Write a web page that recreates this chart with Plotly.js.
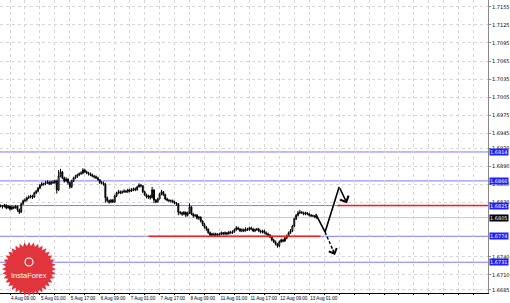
<!DOCTYPE html>
<html><head><meta charset="utf-8">
<script src="https://cdn.plot.ly/plotly-3.0.1.min.js"></script>
<style>html,body{margin:0;padding:0;background:#fff}#chart{width:510px;height:303px}</style>
</head><body><div id="chart"></div>
<script>
// ---- data ----
const opens = [1.6825,1.6824,1.6823,1.6826,1.6821,1.6824,1.6819,1.6823,1.6821,1.6824,1.6818,1.6814,1.6828,1.6833,1.6834,1.6838,1.6839,1.6841,1.6839,1.6846,1.6849,1.6854,1.6859,1.6861,1.6861,1.6863,1.6864,1.6861,1.6864,1.6863,1.6866,1.6851,1.6874,1.6881,1.6871,1.6866,1.6869,1.6863,1.6856,1.6866,1.6871,1.6873,1.6876,1.6878,1.6879,1.6884,1.6881,1.6879,1.6878,1.6876,1.6874,1.6873,1.6871,1.6868,1.6863,1.6863,1.6861,1.6838,1.6833,1.6831,1.6834,1.6831,1.6841,1.6846,1.6848,1.6846,1.6848,1.6849,1.6848,1.6851,1.6849,1.6851,1.6853,1.6851,1.6856,1.6859,1.6858,1.6848,1.6843,1.6839,1.6841,1.6838,1.6851,1.6834,1.6831,1.6836,1.6844,1.6848,1.6843,1.6836,1.6834,1.6833,1.6833,1.6831,1.6829,1.6828,1.6814,1.6813,1.6811,1.6814,1.6809,1.6813,1.6823,1.6811,1.6808,1.6809,1.6804,1.6806,1.6799,1.6794,1.6789,1.6786,1.6780,1.6776,1.6778,1.6776,1.6778,1.6776,1.6778,1.6780,1.6778,1.6780,1.6778,1.6781,1.6780,1.6781,1.6785,1.6788,1.6786,1.6783,1.6785,1.6783,1.6786,1.6785,1.6788,1.6786,1.6783,1.6785,1.6786,1.6783,1.6781,1.6783,1.6780,1.6778,1.6776,1.6773,1.6768,1.6765,1.6761,1.6758,1.6765,1.6768,1.6766,1.6771,1.6775,1.6780,1.6783,1.6791,1.6803,1.6809,1.6813,1.6814,1.6813,1.6811,1.6813,1.6811,1.6809,1.6808,1.6808,1.6806];
const closes = [1.6824,1.6823,1.6826,1.6821,1.6824,1.6819,1.6823,1.6821,1.6824,1.6818,1.6814,1.6828,1.6833,1.6834,1.6838,1.6839,1.6841,1.6839,1.6846,1.6849,1.6854,1.6859,1.6861,1.6861,1.6863,1.6864,1.6861,1.6864,1.6863,1.6866,1.6851,1.6874,1.6881,1.6871,1.6866,1.6869,1.6863,1.6856,1.6866,1.6871,1.6873,1.6876,1.6878,1.6879,1.6884,1.6881,1.6879,1.6878,1.6876,1.6874,1.6873,1.6871,1.6868,1.6863,1.6863,1.6861,1.6838,1.6833,1.6831,1.6834,1.6831,1.6841,1.6846,1.6848,1.6846,1.6848,1.6849,1.6848,1.6851,1.6849,1.6851,1.6853,1.6851,1.6856,1.6859,1.6858,1.6848,1.6843,1.6839,1.6841,1.6838,1.6851,1.6834,1.6831,1.6836,1.6844,1.6848,1.6843,1.6836,1.6834,1.6833,1.6833,1.6831,1.6829,1.6828,1.6814,1.6813,1.6811,1.6814,1.6809,1.6813,1.6823,1.6811,1.6808,1.6809,1.6804,1.6806,1.6799,1.6794,1.6789,1.6786,1.6780,1.6776,1.6778,1.6776,1.6778,1.6776,1.6778,1.6780,1.6778,1.6780,1.6778,1.6781,1.6780,1.6781,1.6785,1.6788,1.6786,1.6783,1.6785,1.6783,1.6786,1.6785,1.6788,1.6786,1.6783,1.6785,1.6786,1.6783,1.6781,1.6783,1.6780,1.6778,1.6776,1.6773,1.6768,1.6765,1.6761,1.6758,1.6765,1.6768,1.6766,1.6771,1.6775,1.6780,1.6783,1.6791,1.6803,1.6809,1.6813,1.6814,1.6813,1.6811,1.6813,1.6811,1.6809,1.6808,1.6808,1.6806,1.6805];
const highs = [1.6827,1.6826,1.6828,1.6827,1.6826,1.6825,1.6825,1.6824,1.6826,1.6825,1.6820,1.6830,1.6835,1.6837,1.6840,1.6842,1.6843,1.6843,1.6848,1.6851,1.6856,1.6861,1.6864,1.6863,1.6866,1.6867,1.6866,1.6866,1.6867,1.6868,1.6868,1.6884,1.6886,1.6882,1.6873,1.6872,1.6870,1.6865,1.6868,1.6873,1.6876,1.6878,1.6880,1.6882,1.6887,1.6886,1.6883,1.6881,1.6880,1.6878,1.6876,1.6875,1.6873,1.6869,1.6866,1.6865,1.6862,1.6840,1.6835,1.6836,1.6836,1.6843,1.6848,1.6851,1.6850,1.6850,1.6852,1.6851,1.6853,1.6853,1.6854,1.6855,1.6855,1.6858,1.6862,1.6861,1.6859,1.6850,1.6845,1.6843,1.6843,1.6856,1.6852,1.6836,1.6838,1.6846,1.6851,1.6849,1.6845,1.6838,1.6836,1.6835,1.6835,1.6833,1.6831,1.6829,1.6816,1.6815,1.6816,1.6815,1.6815,1.6829,1.6824,1.6813,1.6811,1.6811,1.6808,1.6807,1.6801,1.6796,1.6791,1.6787,1.6782,1.6780,1.6780,1.6780,1.6779,1.6780,1.6782,1.6781,1.6782,1.6781,1.6783,1.6783,1.6784,1.6787,1.6791,1.6790,1.6788,1.6787,1.6787,1.6789,1.6788,1.6790,1.6790,1.6788,1.6787,1.6788,1.6788,1.6785,1.6785,1.6785,1.6782,1.6780,1.6778,1.6775,1.6770,1.6767,1.6763,1.6767,1.6770,1.6770,1.6773,1.6777,1.6782,1.6786,1.6793,1.6805,1.6811,1.6816,1.6818,1.6816,1.6815,1.6815,1.6814,1.6813,1.6811,1.6810,1.6809,1.6808];
const lows = [1.6822,1.6820,1.6822,1.6819,1.6820,1.6817,1.6818,1.6819,1.6820,1.6815,1.6811,1.6813,1.6826,1.6831,1.6832,1.6836,1.6837,1.6836,1.6838,1.6844,1.6847,1.6852,1.6857,1.6858,1.6859,1.6861,1.6859,1.6859,1.6861,1.6861,1.6845,1.6849,1.6872,1.6869,1.6863,1.6864,1.6860,1.6853,1.6854,1.6864,1.6869,1.6871,1.6874,1.6876,1.6877,1.6879,1.6877,1.6875,1.6874,1.6872,1.6870,1.6869,1.6866,1.6861,1.6860,1.6858,1.6830,1.6830,1.6828,1.6829,1.6829,1.6830,1.6839,1.6844,1.6844,1.6845,1.6846,1.6846,1.6846,1.6847,1.6848,1.6849,1.6849,1.6850,1.6855,1.6855,1.6846,1.6841,1.6837,1.6836,1.6835,1.6837,1.6829,1.6829,1.6830,1.6835,1.6842,1.6841,1.6834,1.6832,1.6831,1.6830,1.6829,1.6827,1.6825,1.6809,1.6810,1.6808,1.6809,1.6806,1.6807,1.6811,1.6809,1.6805,1.6806,1.6802,1.6801,1.6797,1.6791,1.6787,1.6783,1.6778,1.6773,1.6774,1.6774,1.6774,1.6774,1.6775,1.6776,1.6776,1.6776,1.6776,1.6777,1.6778,1.6778,1.6780,1.6783,1.6784,1.6781,1.6781,1.6781,1.6782,1.6783,1.6783,1.6784,1.6781,1.6781,1.6783,1.6781,1.6779,1.6779,1.6778,1.6776,1.6774,1.6771,1.6766,1.6763,1.6759,1.6755,1.6756,1.6763,1.6764,1.6765,1.6769,1.6773,1.6778,1.6781,1.6789,1.6801,1.6807,1.6811,1.6811,1.6809,1.6809,1.6809,1.6807,1.6806,1.6806,1.6804,1.6803];

// forecast zigzag (bar index, price)
const fcX = [168.5, 173.5, 181.0];
const fcY = [1.6811, 1.6781, 1.6856];
const fcUpTip = [185.2, 1.6829];
const fcDownTip = [178.8, 1.6743];

// levels
const blueLevels = [1.6914, 1.6866, 1.6825, 1.6774, 1.6731];
const redLevels = [1.6774, 1.6825];
const redFrom = [79, 180];
const redTo = [171, 261];
const bidPrice = 1.6805;

// ticks
const timeLabels = ["4 Aug 09:00","5 Aug 01:00","5 Aug 17:00","6 Aug 09:00","7 Aug 01:00","7 Aug 17:00","8 Aug 09:00","11 Aug 01:00","11 Aug 17:00","12 Aug 09:00","13 Aug 01:00"];
const priceTicks = [1.7155,1.7125,1.7095,1.7065,1.7035,1.7005,1.6975,1.6945,1.6920,1.6890,1.6860,1.6830,1.6740,1.6710,1.6685];

// ---- build ----
const bars = closes.map((_, i) => i);
const xTickVals = [], xTickText = [];
for (let k = -1; k * 8 + 5 <= 262; k++) {
  const v = k * 8 + 5;
  xTickVals.push(v);
  const li = (v - 5) / 16;
  xTickText.push(Number.isInteger(li) && li >= 0 && li < timeLabels.length ? timeLabels[li] : "");
}

const traces = [
  {type: 'candlestick', x: bars, open: opens, high: highs, low: lows, close: closes,
   increasing: {line: {color: '#000', width: 1}, fillcolor: '#fff'},
   decreasing: {line: {color: '#000', width: 1}, fillcolor: '#000'},
   whiskerwidth: 0, hoverinfo: 'skip', showlegend: false},
  {type: 'scatter', mode: 'lines', x: fcX, y: fcY, line: {color: '#000', width: 1.6},
   hoverinfo: 'skip', showlegend: false},
  {type: 'scatter', mode: 'lines', x: [fcX[1], fcDownTip[0]], y: [fcY[1], fcDownTip[1]],
   line: {color: '#000', width: 1.4, dash: '3px,2px'}, hoverinfo: 'skip', showlegend: false}
];

const shapes = [];
blueLevels.forEach(p => shapes.push({type: 'line', xref: 'paper', x0: 0, x1: 1, yref: 'y', y0: p, y1: p,
  line: {color: '#7a7aff', width: 1}, layer: 'below'}));
shapes.push({type: 'line', xref: 'paper', x0: 0, x1: 1, yref: 'y', y0: bidPrice, y1: bidPrice,
  line: {color: '#c8c8c8', width: 1}, layer: 'below'});
redLevels.forEach((p, k) => shapes.push({type: 'line', xref: 'x', x0: redFrom[k], x1: redTo[k], yref: 'y', y0: p, y1: p,
  line: {color: '#ff1a1a', width: 1.5}, layer: 'above'}));

// InstaForex badge (decoration) in paper coords
const PW = 488, PH = 293;
const cx = 29, cy = 269, rO = 27, rI = 23, nP = 36;
let d = '';
for (let k = 0; k < nP * 2; k++) {
  const r = k % 2 ? rI : rO;
  const a = Math.PI * k / nP;
  const px = cx + r * Math.cos(a), py = cy + r * Math.sin(a);
  d += (k ? 'L' : 'M') + (px / PW).toFixed(5) + ',' + (1 - py / PH).toFixed(5);
}
d += 'Z';
shapes.push({type: 'path', xref: 'paper', yref: 'paper', path: d, fillcolor: '#e0353d', line: {width: 0}, layer: 'above'});
shapes.push({type: 'circle', xref: 'paper', yref: 'paper', x0: (cx - 4) / PW, x1: (cx + 4) / PW,
  y0: 1 - (cy - 3) / PH, y1: 1 - (cy - 11) / PH, line: {color: '#fff', width: 1.2}, fillcolor: 'rgba(0,0,0,0)', layer: 'above'});

const annotations = [];
blueLevels.forEach(p => annotations.push({xref: 'paper', x: 1, xanchor: 'left', xshift: 1, yref: 'y', y: p,
  text: p.toFixed(4), showarrow: false, bgcolor: '#1e1eff', font: {color: '#fff', size: 5, family: 'DejaVu Sans'}, borderpad: 0}));
annotations.push({xref: 'paper', x: 1, xanchor: 'left', xshift: 1, yref: 'y', y: bidPrice,
  text: bidPrice.toFixed(4), showarrow: false, bgcolor: '#000', font: {color: '#fff', size: 5, family: 'DejaVu Sans'}, borderpad: 0});
annotations.push({xref: 'x', yref: 'y', x: fcUpTip[0], y: fcUpTip[1], axref: 'x', ayref: 'y', ax: fcX[2], ay: fcY[2],
  showarrow: true, arrowhead: 4, arrowsize: 1.2, arrowwidth: 1.5, arrowcolor: '#000', text: ''});
annotations.push({xref: 'x', yref: 'y', x: fcDownTip[0], y: fcDownTip[1], axref: 'x', ayref: 'y',
  ax: fcDownTip[0] - 0.3 * (fcDownTip[0] - fcX[1]), ay: fcDownTip[1] - 0.3 * (fcDownTip[1] - fcY[1]),
  showarrow: true, arrowhead: 4, arrowsize: 1.2, arrowwidth: 1.4, arrowcolor: '#000', text: ''});
annotations.push({xref: 'paper', yref: 'paper', x: cx / PW, y: 1 - 275 / PH, xanchor: 'center', yanchor: 'middle',
  text: 'InstaForex', showarrow: false, font: {color: '#fff', size: 7.5, family: 'Liberation Sans'}});

const layout = {
  width: 510, height: 303,
  margin: {l: 0, r: 22, t: 0, b: 10, pad: 0},
  paper_bgcolor: '#fff', plot_bgcolor: '#fff',
  showlegend: false,
  font: {family: 'DejaVu Sans', size: 4.5, color: '#000'},
  xaxis: {range: [-0.35, 260.6], tickmode: 'array', tickvals: xTickVals, ticktext: xTickText,
    showgrid: true, gridcolor: '#d6d6d6', griddash: 'dot', gridwidth: 1, zeroline: false,
    showline: true, linecolor: '#000', linewidth: 1, ticks: 'outside', ticklen: 1, tickcolor: '#000',
    ticklabelposition: 'outside right', tickangle: 0,
    tickfont: {size: 4.6, color: '#000', family: 'Liberation Sans'},
    rangeslider: {visible: false}, fixedrange: true},
  yaxis: {range: [1.66799, 1.71663], side: 'right', tickmode: 'array', tickvals: priceTicks,
    ticktext: priceTicks.map(v => v.toFixed(4)),
    showgrid: true, gridcolor: '#d6d6d6', griddash: 'dot', gridwidth: 1, zeroline: false,
    showline: true, linecolor: '#888', linewidth: 1, ticks: 'outside', ticklen: 2, tickcolor: '#888',
    tickfont: {size: 5, color: '#000'}, fixedrange: true},
  shapes: shapes, annotations: annotations
};
Plotly.newPlot('chart', traces, layout, {displayModeBar: false, staticPlot: true});
</script></body></html>
